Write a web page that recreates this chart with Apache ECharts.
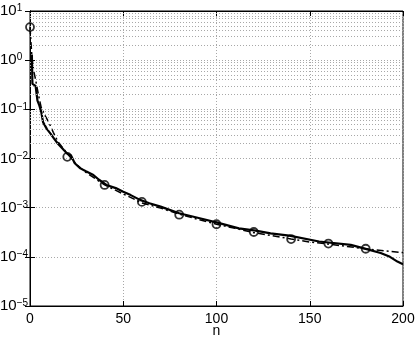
<!DOCTYPE html>
<html>
<head>
<meta charset="utf-8">
<script src="https://cdn.jsdelivr.net/npm/echarts@6/dist/echarts.min.js"></script>
<style>
  html, body { margin: 0; padding: 0; background: #fff; }
  #chart { width: 415px; height: 338px; }
</style>
</head>
<body>
<div id="chart"></div>
<script>
// solid curve
const solidN = [1, 1.3, 3, 4, 5, 6, 7, 9, 11, 13, 15, 18, 20, 22, 24, 27, 30, 34, 37, 41, 46, 50, 54, 59, 64, 70, 80, 91, 102, 112, 121, 129, 139, 155, 172, 180, 188, 193, 197, 200]
const solidV = [1.3, 0.33, 0.3, 0.15, 0.12, 0.09, 0.055, 0.04, 0.032, 0.025, 0.02, 0.015, 0.0125, 0.0115, 0.008, 0.0063, 0.0055, 0.0046, 0.0037, 0.0029, 0.0025, 0.0021, 0.0018, 0.00144, 0.00123, 0.00105, 0.00077, 0.00061, 0.00048, 0.00038, 0.00034, 0.0003, 0.00027, 0.000205, 0.000175, 0.000145, 0.00012, 0.0001, 0.00008, 0.000071]
// dash-dot curve
const dashN = [0, 1, 2, 3, 4.5, 6, 8, 10, 12.5, 15, 20, 25, 30, 40, 50, 60, 70, 80, 90, 100, 110, 120, 130, 140, 150, 160, 170, 180, 190, 200]
const dashV = [4.7, 1.2, 0.6, 0.4, 0.2, 0.11, 0.075, 0.055, 0.034, 0.022, 0.0125, 0.0075, 0.0052, 0.0029, 0.0019, 0.00125, 0.00098, 0.00074, 0.00058, 0.00046, 0.00038, 0.00031, 0.00027, 0.00023, 0.0002, 0.000182, 0.000162, 0.000146, 0.000132, 0.000122]
// circle markers
const circN = [0, 20, 40, 60, 80, 100, 120, 140, 160, 180]
const circV = [4.7, 0.0108, 0.0029, 0.00131, 0.00072, 0.00046, 0.00032, 0.00023, 0.000186, 0.000146]
// axis
const xTicks = [0, 50, 100, 150, 200]
const decades = [-5, -4, -3, -2, -1, 0]
const minorMult = [2, 3, 4, 5, 6, 7, 8, 9]

const zip = (a, b) => a.map((v, i) => [v, b[i]])

const gridDots = { color: '#a8a8a8', type: [1, 2], width: 1 }
const minorLines = []
decades.forEach(function (d) {
  minorMult.forEach(function (m) {
    minorLines.push({ yAxis: m * Math.pow(10, d) })
  })
})

const font = 'Liberation Sans, Arial, Helvetica, sans-serif'

let myChart = echarts.init(document.getElementById('chart'), null, { renderer: 'canvas' })
let option = {
  animation: false,
  grid: {
    left: 30, right: 12, top: 11, bottom: 32,
    outerBoundsMode: 'none', containLabel: false,
    show: true, borderColor: '#000', borderWidth: 1, backgroundColor: 'transparent'
  },
  xAxis: [
    {
      type: 'value', min: 0, max: 200, interval: 50,
      name: 'n', nameLocation: 'middle', nameGap: 18, nameMoveOverlap: false,
      nameTextStyle: { color: '#000', fontSize: 14, fontFamily: font, verticalAlign: 'top' },
      axisLine: { lineStyle: { color: '#000' } },
      axisTick: { inside: true, length: 5, lineStyle: { color: '#000' } },
      axisLabel: { color: '#000', fontSize: 14, fontFamily: font, margin: 6 },
      splitLine: { show: true, lineStyle: gridDots }
    },
    {
      type: 'value', min: 0, max: 200, interval: 50, position: 'top',
      axisLine: { lineStyle: { color: '#000' } },
      axisTick: { inside: true, length: 5, lineStyle: { color: '#000' } },
      axisLabel: { show: false },
      splitLine: { show: false }
    }
  ],
  yAxis: [
    {
      type: 'log', logBase: 10, min: 1e-5, max: 10,
      axisLine: { lineStyle: { color: '#000' } },
      axisTick: { inside: true, length: 5, lineStyle: { color: '#000' } },
      axisLabel: {
        margin: 30, align: 'left', color: '#000',
        formatter: function (v) {
          const e = Math.round(Math.log10(v))
          return '{b|10}{s|' + String(e).replace('-', '\u2212') + '}'
        },
        rich: {
          b: { fontSize: 15, fontFamily: font, color: '#000', lineHeight: 15 },
          s: { fontSize: 10, fontFamily: font, color: '#000', lineHeight: 10, verticalAlign: 'top', padding: [0, 0, 8, 0] }
        }
      },
      splitLine: { show: true, lineStyle: gridDots }
    },
    {
      type: 'log', logBase: 10, min: 1e-5, max: 10, position: 'right',
      axisLine: { lineStyle: { color: '#000' } },
      axisTick: { inside: true, length: 5, lineStyle: { color: '#000' } },
      axisLabel: { show: false },
      splitLine: { show: false }
    }
  ],
  series: [
    {
      type: 'line', name: 'grid', data: [], silent: true,
      markLine: {
        silent: true, symbol: 'none', label: { show: false },
        lineStyle: gridDots, data: minorLines, animation: false
      }
    },
    {
      type: 'line', name: 'dashdot', data: zip(dashN, dashV),
      showSymbol: false, symbol: 'none', z: 3,
      lineStyle: { color: '#000', width: 1.5, type: [7, 3, 2, 3] }
    },
    {
      type: 'line', name: 'solid', data: zip(solidN, solidV),
      showSymbol: false, symbol: 'none', z: 4,
      lineStyle: { color: '#000', width: 2.2 }
    },
    {
      type: 'scatter', name: 'circles', data: zip(circN, circV), z: 5,
      symbol: 'circle', symbolSize: 8,
      itemStyle: { color: 'rgba(255,255,255,0)', borderColor: '#000', borderWidth: 1.8 }
    }
  ]
}
myChart.setOption(option)
</script>
</body>
</html>
